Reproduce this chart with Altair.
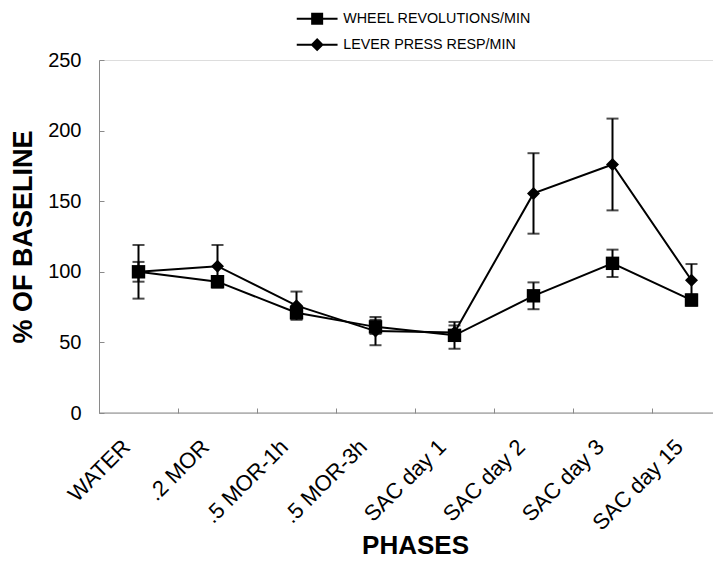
import altair as alt
import pandas as pd

phases = ["WATER", ".2 MOR", ".5 MOR-1h", ".5 MOR-3h", "SAC day 1",
          "SAC day 2", "SAC day 3", "SAC day 15"]
series_names = ["WHEEL REVOLUTIONS/MIN", "LEVER PRESS RESP/MIN"]
wheel_mean = [100, 93, 71, 61, 55, 83, 106, 80]
wheel_err = [7, 4, 4, 5, 9.5, 9.5, 9.7, 4]
lever_mean = [100, 104, 76, 58, 57, 155.5, 176, 94]
lever_err = [19, 15, 10, 10, 5, 28.5, 32.5, 11.5]
y_ticks = [0, 50, 100, 150, 200, 250]

rows = []
for s, means, errs in ((series_names[0], wheel_mean, wheel_err),
                       (series_names[1], lever_mean, lever_err)):
    for p, m, e in zip(phases, means, errs):
        rows.append(dict(phase=p, series=s, mean=m, lo=m - e, hi=m + e))
df = pd.DataFrame(rows)
legend_df = pd.DataFrame({"series": series_names, "mean": [float("nan")] * 2})
baseline_df = pd.DataFrame({"base": [0]})

FONT = "Liberation Sans"
WIDTH = 614          # keeps the whole svg inside the 705px page body
BAND = 79
N = len(phases)
GRAY = "#8a8a8a"

# the last band runs past the visible right edge, as in the original
x_scale = alt.Scale(type="band", domain=phases, rangeMin=0, rangeMax=BAND * N,
                    paddingInner=0, paddingOuter=0)
y_scale = alt.Scale(domain=[0, 250], nice=False, zero=True)

x_main = alt.Axis(title="PHASES", labelAngle=-45, labelAlign="right",
                  labelBaseline="middle", labelFontSize=22, labelFont=FONT,
                  labelColor="black", labelPadding=30, labelOffset=-12,
                  ticks=False, domain=False, titleFont=FONT,
                  titleFontSize=26, titleFontWeight="bold", titlePadding=-1,
                  titleColor="black", grid=False, labelOverlap=False)
y_main = alt.Axis(title="% OF BASELINE", values=y_ticks, labelFontSize=20,
                  labelFont=FONT, labelColor="black", labelPadding=18,
                  ticks=False, domainColor=GRAY, domainWidth=1,
                  titleFont=FONT, titleFontSize=27, titleFontWeight="bold",
                  titlePadding=10, titleColor="black", grid=False)
x_ticks_ax = alt.Axis(orient="bottom", offset=-5, tickSize=5, values=phases[1:],
                      bandPosition=0, labels=False, domain=False, title=None,
                      tickColor=GRAY, tickWidth=1, grid=False)
y_ticks_ax = alt.Axis(orient="left", offset=-5, tickSize=5, values=y_ticks,
                      labels=False, domain=False, title=None, tickColor=GRAY,
                      tickWidth=1, grid=False)


def xenc(axis=None, band=True):
    if band:
        return alt.X("phase:N", scale=x_scale, axis=axis, sort=phases, bandPosition=0.5)
    return alt.X("phase:N", scale=x_scale, axis=axis, sort=phases)


def yenc(field, axis=None):
    return alt.Y(field, scale=y_scale, axis=axis)


base = alt.Chart(df)

# x-axis line across the visible plot width
x_line = alt.Chart(baseline_df).mark_rule(color=GRAY, strokeWidth=1).encode(
    y=yenc("base:Q"),
)

lines = base.mark_line(color="black", strokeWidth=2).encode(
    x=xenc(x_main), y=yenc("mean:Q", y_main), detail="series:N",
)

err_rules = base.mark_rule(color="black", strokeWidth=2).encode(
    x=xenc(x_ticks_ax), y=yenc("lo:Q", y_ticks_ax), y2="hi:Q",
)
cap_lo = base.mark_tick(color="black", size=12, thickness=2).encode(
    x=xenc(band=False), y=yenc("lo:Q"),
)
cap_hi = base.mark_tick(color="black", size=12, thickness=2).encode(
    x=xenc(band=False), y=yenc("hi:Q"),
)

wheel_pts = base.transform_filter(alt.datum.series == series_names[0]).mark_point(
    shape="square", filled=True, size=180, color="black", opacity=1
).encode(x=xenc(), y=yenc("mean:Q"))
lever_pts = base.transform_filter(alt.datum.series == series_names[1]).mark_point(
    shape="diamond", filled=True, size=170, color="black", opacity=1
).encode(x=xenc(), y=yenc("mean:Q"))

wheel_path = "M-3.4,-0.17H3.4V0.17H-3.4ZM-1,-1H1V1H-1Z"
lever_path = "M-3.4,-0.17H3.4V0.17H-3.4ZM0,-1.1L1.1,0L0,1.1L-1.1,0Z"
legend_layer = alt.Chart(legend_df).mark_point(
    filled=True, fill="black", size=144
).encode(
    y=yenc("mean:Q"),
    shape=alt.Shape("series:N",
                    scale=alt.Scale(domain=series_names, range=[wheel_path, lever_path]),
                    legend=alt.Legend(orient="none", legendX=211, legendY=-48.5,
                                      title=None, symbolSize=144, labelOffset=19,
                                      labelFontSize=14.3, labelFont=FONT,
                                      labelColor="black", rowPadding=11,
                                      labelLimit=0, padding=0,
                                      symbolFillColor="black",
                                      symbolStrokeWidth=0,
                                      symbolOpacity=1, direction="vertical")),
)

chart = alt.layer(
    x_line, lines, err_rules, cap_lo, cap_hi, wheel_pts, lever_pts, legend_layer
).resolve_axis(x="independent", y="independent").properties(
    width=WIDTH, height=353,
    autosize=alt.AutoSizeParams(type="none"),
    padding={"left": 91, "top": 52, "right": 0, "bottom": 148},
).configure_view(stroke=None).configure(background="white")

chart.save("out.html", embed_options={"renderer": "svg", "actions": False})
